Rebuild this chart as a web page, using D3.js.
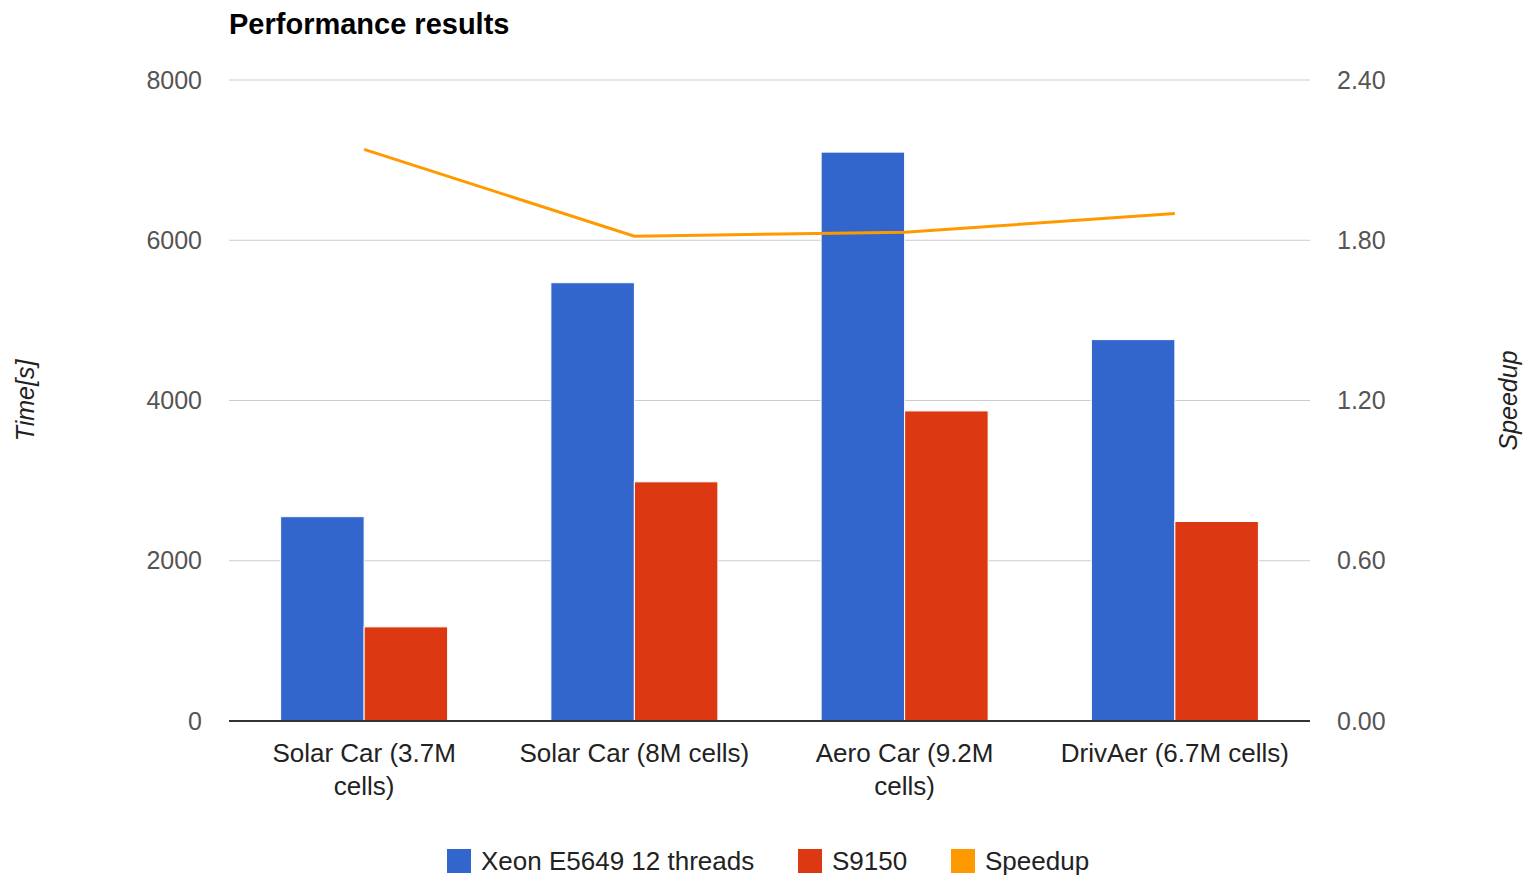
<!DOCTYPE html>
<html>
<head>
<meta charset="utf-8">
<script src="https://cdn.jsdelivr.net/npm/d3@7"></script>
<style>
    body { margin: 0; background: #fff; }
    svg text { font-family: "Liberation Sans", Arial, sans-serif; }
</style>
</head>
<body>
<div id="chart"></div>
<script>
// data
const categories = ["Solar Car (3.7M cells)", "Solar Car (8M cells)", "Aero Car (9.2M cells)", "DrivAer (6.7M cells)"];
const seriesNames = ["Xeon E5649 12 threads", "S9150"];
const xeonTimes = [2550, 5470, 7100, 4760];
const s9150Times = [1175, 2985, 3870, 2490];
const speedup = [2.14, 1.815, 1.83, 1.90];
const leftTicks = [0, 2000, 4000, 6000, 8000];
const rightTicks = [0, 0.6, 1.2, 1.8, 2.4];
const colors = ["#3366cc", "#dc3912", "#ff9900"];

const W = 1532, H = 877;
const margin = {top: 80, right: 222, bottom: 156, left: 229};
const width = W - margin.left - margin.right;
const height = H - margin.top - margin.bottom;

const svg = d3.select("#chart").append("svg")
    .attr("width", W)
    .attr("height", H);

const g = svg.append("g")
    .attr("transform", "translate(" + margin.left + "," + margin.top + ")");

// scales
const x = d3.scaleBand().domain(categories).range([0, width]);
const groupWidth = x.bandwidth() * 0.618;
const x1 = d3.scaleBand().domain(seriesNames).range([0, groupWidth]);
const y = d3.scaleLinear().domain([0, 8000]).range([height, 0]);
const y2 = d3.scaleLinear().domain([0, 2.4]).range([height, 0]);

// gridlines
g.selectAll(".grid").data(leftTicks.slice(1)).enter()
    .append("line")
    .attr("x1", 0).attr("x2", width)
    .attr("y1", d => y(d)).attr("y2", d => y(d))
    .attr("stroke", "#cccccc").attr("stroke-width", 1);

// left axis
const yAxis = d3.axisLeft(y).tickValues(leftTicks).tickSize(0).tickPadding(27)
    .tickFormat(d3.format("d"));
g.append("g").call(yAxis)
    .call(a => a.select(".domain").remove())
    .selectAll("text")
    .style("font-size", "25px").attr("fill", "#555");

// right axis
const yAxis2 = d3.axisRight(y2).tickValues(rightTicks).tickSize(0).tickPadding(27)
    .tickFormat(d3.format(".2f"));
g.append("g").attr("transform", "translate(" + width + ",0)").call(yAxis2)
    .call(a => a.select(".domain").remove())
    .selectAll("text")
    .style("font-size", "25px").attr("fill", "#555");

// bars
const rows = categories.map((c, i) => ({cat: c, vals: [xeonTimes[i], s9150Times[i]]}));
const groups = g.selectAll(".grp").data(rows).enter()
    .append("g")
    .attr("transform", d => "translate(" + (x(d.cat) + (x.bandwidth() - groupWidth) / 2) + ",0)");

groups.selectAll("rect")
    .data(d => d.vals.map((v, j) => ({name: seriesNames[j], value: v, idx: j})))
    .enter()
    .append("rect")
    .attr("x", d => x1(d.name))
    .attr("y", d => y(d.value))
    .attr("width", x1.bandwidth())
    .attr("height", d => height - y(d.value))
    .attr("fill", d => colors[d.idx])
    .attr("stroke", "#fff")
    .attr("stroke-width", 1);

// baseline
g.append("line")
    .attr("x1", 0).attr("x2", width)
    .attr("y1", y(0)).attr("y2", y(0))
    .attr("stroke", "#333").attr("stroke-width", 2);

// speedup line
const line = d3.line()
    .x((d, i) => x(categories[i]) + x.bandwidth() / 2)
    .y(d => y2(d));
g.append("path")
    .datum(speedup)
    .attr("d", line)
    .attr("fill", "none")
    .attr("stroke", colors[2])
    .attr("stroke-width", 3);

// category labels, wrapped like the reference
const wrapWidth = x.bandwidth() * 0.9;
const xLabels = g.selectAll(".xlab").data(categories).enter()
    .append("text")
    .attr("x", d => x(d) + x.bandwidth() / 2)
    .attr("y", height + 41)
    .attr("text-anchor", "middle")
    .style("font-size", "26px")
    .attr("fill", "#222");

xLabels.each(function(d) {
    const el = d3.select(this);
    const words = d.split(" ");
    let lineWords = [];
    let tspan = el.append("tspan").attr("x", x(d) + x.bandwidth() / 2).attr("dy", 0);
    words.forEach(w => {
        lineWords.push(w);
        tspan.text(lineWords.join(" "));
        if (tspan.node().getComputedTextLength() > wrapWidth && lineWords.length > 1) {
            lineWords.pop();
            tspan.text(lineWords.join(" "));
            lineWords = [w];
            tspan = el.append("tspan").attr("x", x(d) + x.bandwidth() / 2).attr("dy", 33).text(w);
        }
    });
});

// title
svg.append("text")
    .attr("x", margin.left)
    .attr("y", 34)
    .style("font-size", "29px")
    .style("font-weight", "bold")
    .attr("fill", "#000")
    .text("Performance results");

// axis titles
svg.append("text")
    .attr("transform", "translate(34," + (margin.top + height / 2) + ") rotate(-90)")
    .attr("text-anchor", "middle")
    .style("font-size", "25px")
    .style("font-style", "italic")
    .attr("fill", "#222")
    .text("Time[s]");

svg.append("text")
    .attr("transform", "translate(1517," + (margin.top + height / 2) + ") rotate(-90)")
    .attr("text-anchor", "middle")
    .style("font-size", "25px")
    .style("font-style", "italic")
    .attr("fill", "#222")
    .text("Speedup");

// legend
const legendItems = [
    {label: seriesNames[0], color: colors[0], x: 447},
    {label: seriesNames[1], color: colors[1], x: 798},
    {label: "Speedup", color: colors[2], x: 951}
];
const legend = svg.selectAll(".legend").data(legendItems).enter()
    .append("g")
    .attr("transform", d => "translate(" + d.x + ",849)");
legend.append("rect")
    .attr("width", 24).attr("height", 24)
    .attr("fill", d => d.color);
legend.append("text")
    .attr("x", 34).attr("y", 21)
    .style("font-size", "26px")
    .attr("fill", "#222")
    .text(d => d.label);
</script>
</body>
</html>
